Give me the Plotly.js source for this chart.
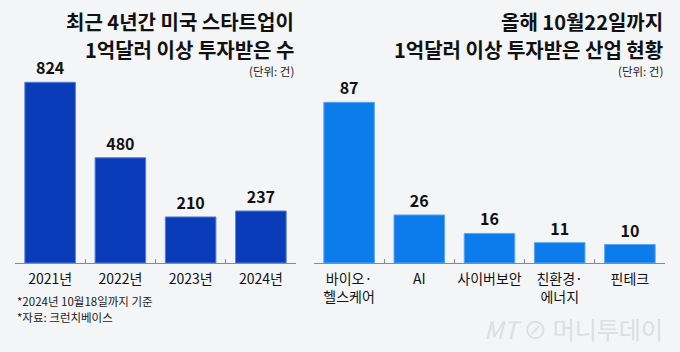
<!DOCTYPE html>
<html><head><meta charset="utf-8">
<script src="https://cdn.plot.ly/plotly-3.0.1.min.js"></script>
<style>html,body{margin:0;padding:0;background:#f4f5f7;}#c{width:680px;height:352px;}</style>
</head><body><div id="c"></div>
<script>
const yearCats = ["2021년", "2022년", "2023년", "2024년"];
const yearVals = [824, 480, 210, 237];
const indCats = ["바이오·<br>헬스케어", "AI", "사이버보안", "친환경·<br>에너지", "핀테크"];
const indVals = [87, 26, 16, 11, 10];

const F = "Noto Sans CJK KR, Noto Sans, sans-serif";
const H = 352;
const py = v => (H - v) / H;

const traces = [
  {type:"bar", x:yearCats, y:yearVals, xaxis:"x", yaxis:"y", width:0.72,
   marker:{color:"#0a3cba", line:{color:"#5a7fd6", width:1}},
   text:yearVals.map(String), textposition:"outside", cliponaxis:false,
   textfont:{family:F, size:16, color:"#111", weight:700}, hoverinfo:"none"},
  {type:"bar", x:indCats, y:indVals, xaxis:"x2", yaxis:"y2", width:0.72,
   marker:{color:"#0c7cec", line:{color:"#5aa6f2", width:1}},
   text:indVals.map(String), textposition:"outside", cliponaxis:false,
   textfont:{family:F, size:16, color:"#111", weight:700}, hoverinfo:"none"}
];

const xcommon = {type:"category", showline:true, linecolor:"#8a8a8a", linewidth:1,
  ticks:"inside", tickson:"boundaries", ticklen:4, tickcolor:"#8a8a8a", tickangle:0,
  ticklabelstandoff:3,
  showgrid:false, zeroline:false, tickfont:{family:F, size:14, color:"#111"}, fixedrange:true};
const ycommon = {visible:false, showgrid:false, zeroline:false, fixedrange:true};

const titleFont = {family:F, size:20, color:"#111", weight:700};
const smallFont = {family:F, size:11.5, color:"#222"};

const layout = {
  width:680, height:352, margin:{l:0, r:0, t:0, b:0},
  paper_bgcolor:"#f4f5f7", plot_bgcolor:"#f4f5f7", showlegend:false, bargap:0.28,
  xaxis:Object.assign({}, xcommon, {domain:[15/680, 296/680], anchor:"y"}),
  xaxis2:Object.assign({}, xcommon, {domain:[314/680, 665/680], anchor:"y2"}),
  yaxis:Object.assign({}, ycommon, {domain:[py(263), py(70)], range:[0, 880]}),
  yaxis2:Object.assign({}, ycommon, {domain:[py(263), py(70)], range:[0, 104.5], anchor:"x2"}),
  annotations:[
    {xref:"paper", yref:"paper", x:296/680, y:py(21.5), xanchor:"right", yanchor:"middle", showarrow:false, text:"최근 4년간 미국 스타트업이", font:titleFont},
    {xref:"paper", yref:"paper", x:296/680, y:py(49.5), xanchor:"right", yanchor:"middle", showarrow:false, text:"1억달러 이상 투자받은 수", font:titleFont},
    {xref:"paper", yref:"paper", x:296/680, y:py(71), xanchor:"right", yanchor:"middle", showarrow:false, text:"(단위: 건)", font:smallFont},
    {xref:"paper", yref:"paper", x:665/680, y:py(21.5), xanchor:"right", yanchor:"middle", showarrow:false, text:"올해 10월22일까지", font:titleFont},
    {xref:"paper", yref:"paper", x:665/680, y:py(49.5), xanchor:"right", yanchor:"middle", showarrow:false, text:"1억달러 이상 투자받은 산업 현황", font:titleFont},
    {xref:"paper", yref:"paper", x:665/680, y:py(71), xanchor:"right", yanchor:"middle", showarrow:false, text:"(단위: 건)", font:smallFont},
    {xref:"paper", yref:"paper", x:15/680, y:py(301), xanchor:"left", yanchor:"middle", showarrow:false, text:"*2024년 10월18일까지 기준", font:smallFont},
    {xref:"paper", yref:"paper", x:15/680, y:py(317), xanchor:"left", yanchor:"middle", showarrow:false, text:"*자료: 크런치베이스", font:smallFont},
    {xref:"paper", yref:"paper", x:665/680, y:py(328), xanchor:"right", yanchor:"middle", showarrow:false, text:"<i>MT</i> ⊘ 머니투데이", font:{family:F, size:24, color:"#dcdee3"}}
  ]
};
Plotly.newPlot("c", traces, layout, {displayModeBar:false, staticPlot:true});
</script></body></html>
